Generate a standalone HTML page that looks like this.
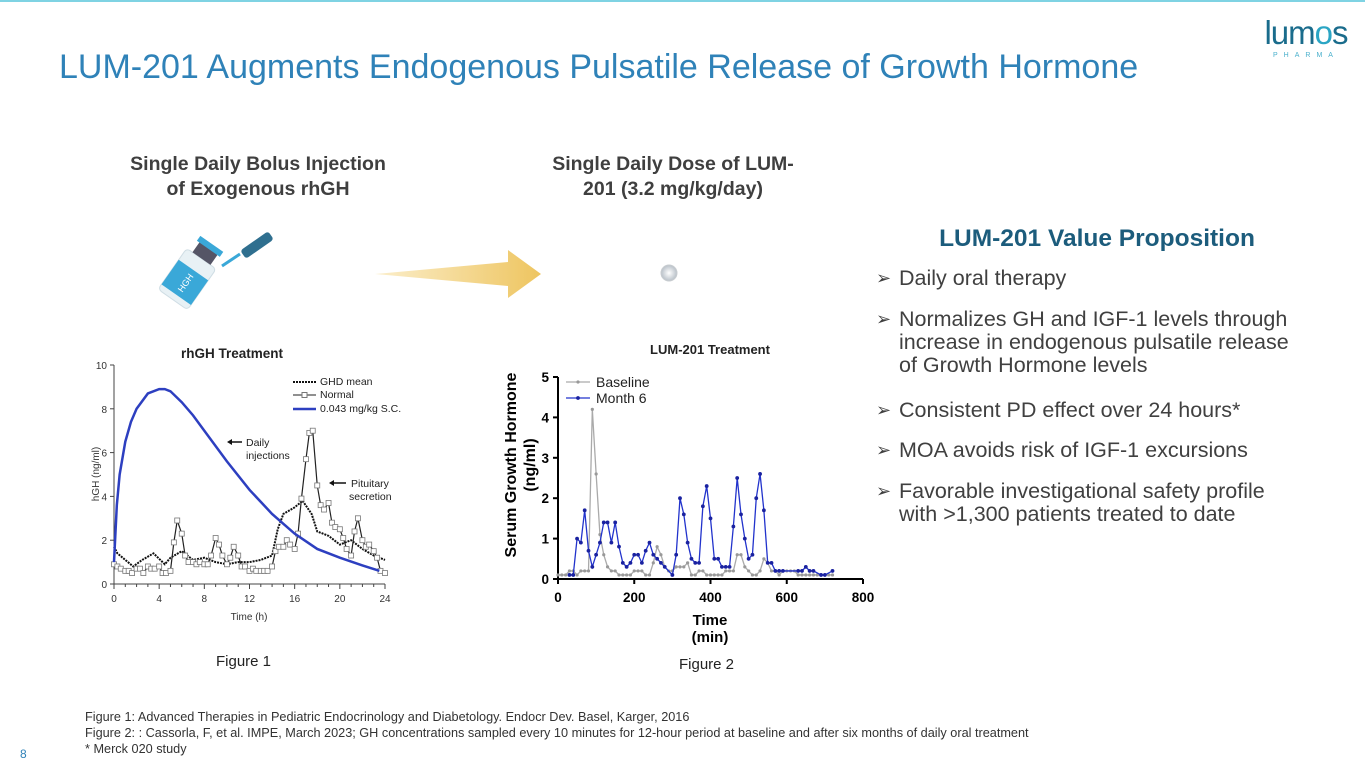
<!DOCTYPE html>
<html><head><meta charset="utf-8"><style>
body{margin:0;width:1365px;height:768px;overflow:hidden;background:#fff;font-family:"Liberation Sans",sans-serif;position:relative}
.abs{position:absolute}
.sub{font-weight:bold;font-size:19.5px;color:#3f3f3f;text-align:center;line-height:25px}
.bl{position:absolute;left:876px;font-size:21.5px;color:#404040;line-height:23px;white-space:nowrap}
.bl span{position:absolute;left:0;top:0;font-size:18px;color:#404040}
.bl div{margin-left:23px}
.fn{font-size:12.7px;color:#333;line-height:16px;white-space:nowrap}
</style></head><body>
<div class="abs" style="left:0;top:0;width:1365px;height:2px;background:#7fd3e3"></div>
<div class="abs" style="left:1253px;top:16px;width:106px;text-align:center">
<div style="font-size:33px;color:#1a6c8c;letter-spacing:-1px;line-height:34px">lum<span style="color:#2aa5c4">o</span>s</div>
<div style="font-size:7px;color:#4ab0cc;letter-spacing:6px;margin-top:2px">PHARMA</div></div>
<div class="abs" style="left:59px;top:48px;font-size:34px;color:#2f82b8;white-space:nowrap">LUM-201 Augments Endogenous Pulsatile Release of Growth Hormone</div>
<div class="abs sub" style="left:98px;top:152px;width:320px">Single Daily Bolus Injection<br>of Exogenous rhGH</div>
<div class="abs sub" style="left:518px;top:152px;width:310px">Single Daily Dose of LUM-<br>201 (3.2 mg/kg/day)</div>

<svg class="abs" style="left:0;top:0" width="1365" height="768">
<g transform="translate(190,275) rotate(-55)">
<rect x="-30" y="-18" width="50" height="36" rx="4" fill="#e8f1f5" stroke="#cfdde4"/>
<rect x="-24" y="-18" width="30" height="36" fill="#3aa8d8"/>
<text x="-9" y="4" font-size="9" fill="#fff" text-anchor="middle" font-family="Liberation Sans">HGH</text>
<rect x="20" y="-11" width="14" height="22" fill="#556"/>
<rect x="32" y="-14" width="6" height="28" fill="#3aa8d8"/>
</g>
<line x1="222" y1="266" x2="240" y2="254" stroke="#3aa8d8" stroke-width="3"/>
<rect x="240" y="240" width="34" height="10" rx="3" transform="rotate(-35 257 245)" fill="#2f6f8f"/>
<defs><linearGradient id="ag" x1="0" x2="1"><stop offset="0" stop-color="#fbeecb"/><stop offset="1" stop-color="#eec560"/></linearGradient>
<radialGradient id="pg"><stop offset="0" stop-color="#fff"/><stop offset="1" stop-color="#b8c0c8"/></radialGradient></defs>
<polygon points="375,274 508,262 508,250 541,274 508,298 508,286" fill="url(#ag)"/>
<circle cx="669" cy="273" r="8" fill="url(#pg)" stroke="#c8ccd0"/>
</svg>

<svg class="abs" style="left:0;top:0" width="460" height="640" id="c1"></svg>
<svg class="abs" style="left:0;top:0" width="900" height="660" id="c2"></svg>

<div class="abs" style="left:897px;top:225px;width:400px;text-align:center;font-weight:bold;font-size:24.5px;color:#1c5c7c">LUM-201 Value Proposition</div>
<div class="bl" style="top:267px"><span>➢</span><div>Daily oral therapy</div></div>
<div class="bl" style="top:308px"><span>➢</span><div>Normalizes GH and IGF-1 levels through<br>increase in endogenous pulsatile release<br>of Growth Hormone levels</div></div>
<div class="bl" style="top:399px"><span>➢</span><div>Consistent PD effect over 24 hours*</div></div>
<div class="bl" style="top:439px"><span>➢</span><div>MOA avoids risk of IGF-1 excursions</div></div>
<div class="bl" style="top:480px"><span>➢</span><div>Favorable investigational safety profile<br>with &gt;1,300 patients treated to date</div></div>

<div class="abs" style="left:216px;top:653px;font-size:15px;color:#222">Figure 1</div>
<div class="abs" style="left:679px;top:656px;font-size:15px;color:#222">Figure 2</div>
<div class="abs fn" style="left:85px;top:709px">Figure 1: Advanced Therapies in Pediatric Endocrinology and Diabetology. Endocr Dev. Basel, Karger, 2016<br>Figure 2: : Cassorla, F, et al. IMPE, March 2023; GH concentrations sampled every 10 minutes for 12-hour period at baseline and after six months of daily oral treatment<br>* Merck 020 study</div>
<div class="abs" style="left:20px;top:747px;font-size:12px;color:#2f82b8">8</div>

<script>
// Chart 1 data
const hTicks=[0,4,8,12,16,20,24];
const gTicks=[0,2,4,6,8,10];
const scHours=[0,0.25,0.5,1,1.5,2,3,4,4.5,5,6,7,8,10,12,14,16,18,20,22,23.5];
const scVals=[1.0,3.6,5.0,6.5,7.4,8.0,8.7,8.9,8.9,8.8,8.3,7.7,7.0,5.6,4.3,3.2,2.3,1.6,1.2,0.85,0.6];
const normHours=[0,.3,.6,1,1.3,1.6,2,2.3,2.6,3,3.3,3.6,4,4.3,4.6,5,5.3,5.6,6,6.3,6.6,7,7.3,7.6,8,8.3,8.6,9,9.3,9.6,10,10.3,10.6,11,11.3,11.6,12,12.3,12.6,13,13.3,13.6,14,14.3,14.6,15,15.3,15.6,16,16.3,16.6,17,17.3,17.6,18,18.3,18.6,19,19.3,19.6,20,20.3,20.6,21,21.3,21.6,22,22.3,22.6,23,23.3,23.6,24];
const normVals=[.9,.8,.7,.6,.6,.5,.7,.7,.5,.8,.7,.7,.8,.5,.5,.6,1.9,2.9,2.3,1.3,1.0,1.0,.9,1.0,.9,.9,1.3,2.1,1.8,1.3,.9,1.2,1.7,1.3,.8,.8,.6,.7,.6,.6,.6,.6,.8,1.5,1.7,1.7,2.0,1.8,1.6,2.3,3.9,5.7,6.9,7.0,4.5,3.6,3.4,3.7,2.8,2.6,2.5,2.1,1.6,1.3,2.4,3.0,2.0,1.7,1.8,1.5,1.2,.6,.5];
const ghdHours=[0,0.3,1,1.7,2.5,3.5,4.5,5,6,7,8,9,10,11,12,13,14,14.5,15,16,16.7,17.5,18,19,20,21,22,23,24];
const ghdVals=[1.7,1.4,1.1,0.8,1.1,1.4,0.9,1.2,1.5,1.1,1.2,1.0,0.9,1.0,1.0,1.1,1.3,2.5,3.2,3.5,3.8,3.2,2.4,2.2,1.8,2.0,1.6,1.3,1.1];
// Chart 2 data
const minTicks=[0,200,400,600,800];
const sgTicks=[0,1,2,3,4,5];
const baseTimes=[0,10,20,30,40,50,60,70,80,90,100,110,120,130,140,150,160,170,180,190,200,210,220,230,240,250,260,270,280,290,300,310,320,330,340,350,360,370,380,390,400,410,420,430,440,450,460,470,480,490,500,510,520,530,540,550,560,570,580,590,600,610,620,630,640,650,660,670,680,690,700,710,720];
const baseVals=[.1,.1,.1,.2,.2,.1,.2,.2,.2,4.2,2.6,1.1,.6,.3,.2,.2,.1,.1,.1,.1,.2,.2,.2,.1,.1,.4,.8,.6,.3,.2,.2,.3,.3,.3,.4,.1,.1,.2,.2,.1,.1,.1,.1,.1,.2,.2,.2,.6,.6,.3,.2,.1,.1,.2,.5,.4,.2,.2,.1,.2,.2,.2,.2,.1,.1,.1,.1,.1,.1,.1,.1,.1,.1];
const m6Times=[30,40,50,60,70,80,90,100,110,120,130,140,150,160,170,180,190,200,210,220,230,240,250,260,270,280,300,310,320,330,340,350,360,370,380,390,400,410,420,430,440,450,460,470,480,490,500,510,520,530,540,550,560,570,580,590,630,640,650,660,670,690,700,720];
const m6Vals=[.1,.1,1.0,.9,1.7,.7,.3,.6,.9,1.4,1.4,.9,1.4,.8,.4,.3,.4,.6,.6,.4,.7,.9,.6,.5,.4,.3,.1,.6,2.0,1.6,.9,.5,.4,.4,1.8,2.3,1.5,.5,.5,.3,.3,.3,1.3,2.5,1.6,1.0,.5,.6,2.0,2.6,1.7,.4,.4,.2,.2,.2,.2,.2,.3,.2,.2,.1,.1,.2];

const NS='http://www.w3.org/2000/svg';
function mk(p,t,a){const e=document.createElementNS(NS,t);for(const k in a)e.setAttribute(k,a[k]);p.appendChild(e);return e;}
function txt(p,x,y,s,a){const e=mk(p,'text',Object.assign({x:x,y:y,'font-family':'Liberation Sans, sans-serif'},a));e.textContent=s;return e;}
function pts(xs,ys,fx,fy){return xs.map((v,i)=>fx(v)+','+fy(ys[i])).join(' ');}

// ---- Chart 1
const c1=document.getElementById('c1');
const x1=h=>114+h*(385-114)/24, y1=v=>584-v*(584-365)/10;
let t=txt(c1,232,358,'rhGH Treatment',{'font-size':13.5,'font-weight':'bold','text-anchor':'middle',fill:'#222'});

mk(c1,'line',{x1:x1(0),y1:y1(10),x2:x1(0),y2:y1(0),stroke:'#444'});
mk(c1,'line',{x1:x1(0),y1:y1(0),x2:x1(24),y2:y1(0),stroke:'#444'});
gTicks.forEach(v=>{mk(c1,'line',{x1:x1(0)-4,y1:y1(v),x2:x1(0),y2:y1(v),stroke:'#444'});
 const e=txt(c1,x1(0)-7,y1(v)+4,v,{'font-size':10,'text-anchor':'end',fill:'#333'});
 });
for(let h=0;h<=24;h++)mk(c1,'line',{x1:x1(h),y1:y1(0),x2:x1(h),y2:y1(0)+(h%4?3:5),stroke:'#444'});
hTicks.forEach(h=>{const e=txt(c1,x1(h),y1(0)+18,h,{'font-size':10,'text-anchor':'middle',fill:'#333'});
 });
t=txt(c1,249,620,'Time (h)',{'font-size':10,'text-anchor':'middle',fill:'#333'});

t=txt(c1,0,0,'hGH (ng/ml)',{'font-size':10,'text-anchor':'middle',fill:'#333',transform:'translate(99,474) rotate(-90)'});

let l=mk(c1,'polyline',{points:pts(ghdHours,ghdVals,x1,y1),fill:'none',stroke:'#111','stroke-width':2,'stroke-dasharray':'2,1'});

l=mk(c1,'polyline',{points:pts(normHours,normVals,x1,y1),fill:'none',stroke:'#222','stroke-width':1.2});

normHours.forEach((h,i)=>{const r=mk(c1,'rect',{x:x1(h)-2.5,y:y1(normVals[i])-2.5,width:5,height:5,fill:'#fff',stroke:'#777','stroke-width':.8});
 });
l=mk(c1,'polyline',{points:pts(scHours,scVals,x1,y1),fill:'none',stroke:'#2d3fc0','stroke-width':2.5});

// legend
mk(c1,'line',{x1:293,y1:382,x2:316,y2:382,stroke:'#111','stroke-width':2,'stroke-dasharray':'2,1'});
mk(c1,'line',{x1:293,y1:395,x2:316,y2:395,stroke:'#222'});mk(c1,'rect',{x:302,y:392.5,width:5,height:5,fill:'#fff',stroke:'#777'});
mk(c1,'line',{x1:293,y1:409,x2:316,y2:409,stroke:'#2d3fc0','stroke-width':2.5});
[['GHD mean',385],['Normal',398],['0.043 mg/kg S.C.',412]].forEach(a=>{const e=txt(c1,320,a[1],a[0],{'font-size':10.5,fill:'#222'});
 });
// annotations
mk(c1,'line',{x1:229,y1:442,x2:242,y2:442,stroke:'#111','stroke-width':1.5});mk(c1,'polygon',{points:'227,442 232,439 232,445',fill:'#111'});
txt(c1,246,446,'Daily',{'font-size':10.5,fill:'#222'});txt(c1,246,459,'injections',{'font-size':10.5,fill:'#222'});
mk(c1,'line',{x1:331,y1:483,x2:346,y2:483,stroke:'#111','stroke-width':1.5});mk(c1,'polygon',{points:'329,483 334,480 334,486',fill:'#111'});
txt(c1,351,487,'Pituitary',{'font-size':10.5,fill:'#222'});txt(c1,349,500,'secretion',{'font-size':10.5,fill:'#222'});

// ---- Chart 2
const c2=document.getElementById('c2');
const x2=m=>558+m*(863-558)/800, y2=v=>579-v*(579-377)/5;
t=txt(c2,710,354,'LUM-201 Treatment',{'font-size':13,'font-weight':'bold','text-anchor':'middle',fill:'#222'});

mk(c2,'line',{x1:x2(0),y1:y2(5),x2:x2(0),y2:y2(0)+1,stroke:'#000','stroke-width':2});
mk(c2,'line',{x1:x2(0)-1,y1:y2(0),x2:x2(800),y2:y2(0),stroke:'#000','stroke-width':2});
sgTicks.forEach(v=>{mk(c2,'line',{x1:x2(0)-5,y1:y2(v),x2:x2(0),y2:y2(v),stroke:'#000','stroke-width':2});
 const e=txt(c2,x2(0)-9,y2(v)+5,v,{'font-size':13.5,'font-weight':'bold','text-anchor':'end',fill:'#000'});
 });
minTicks.forEach(m=>{mk(c2,'line',{x1:x2(m),y1:y2(0),x2:x2(m),y2:y2(0)+5,stroke:'#000','stroke-width':2});
 const e=txt(c2,x2(m),y2(0)+23,m,{'font-size':13.5,'font-weight':'bold','text-anchor':'middle',fill:'#000'});
 });
t=txt(c2,710,625,'Time',{'font-size':15,'font-weight':'bold','text-anchor':'middle',fill:'#000'});

txt(c2,710,642,'(min)',{'font-size':15,'font-weight':'bold','text-anchor':'middle',fill:'#000'});
t=txt(c2,0,0,'Serum Growth Hormone',{'font-size':16,'font-weight':'bold','text-anchor':'middle',fill:'#000',transform:'translate(516,465) rotate(-90)'});

txt(c2,0,0,'(ng/ml)',{'font-size':16,'font-weight':'bold','text-anchor':'middle',fill:'#000',transform:'translate(535,465) rotate(-90)'});
l=mk(c2,'polyline',{points:pts(baseTimes,baseVals,x2,y2),fill:'none',stroke:'#aaa','stroke-width':1.3});

baseTimes.forEach((m,i)=>{const c=mk(c2,'circle',{cx:x2(m),cy:y2(baseVals[i]),r:1.6,fill:'#999'});
 });
l=mk(c2,'polyline',{points:pts(m6Times,m6Vals,x2,y2),fill:'none',stroke:'#2233cc','stroke-width':1.3});

m6Times.forEach((m,i)=>{const c=mk(c2,'circle',{cx:x2(m),cy:y2(m6Vals[i]),r:1.9,fill:'#1a22a0'});
 });
mk(c2,'line',{x1:566,y1:382,x2:590,y2:382,stroke:'#aaa','stroke-width':1.3});mk(c2,'circle',{cx:578,cy:382,r:1.6,fill:'#999'});
mk(c2,'line',{x1:566,y1:398,x2:590,y2:398,stroke:'#2233cc','stroke-width':1.3});mk(c2,'circle',{cx:578,cy:398,r:1.9,fill:'#1a22a0'});
[['Baseline',387],['Month 6',403]].forEach(a=>{const e=txt(c2,596,a[1],a[0],{'font-size':14,fill:'#222'});
 });
</script>
</body></html>
